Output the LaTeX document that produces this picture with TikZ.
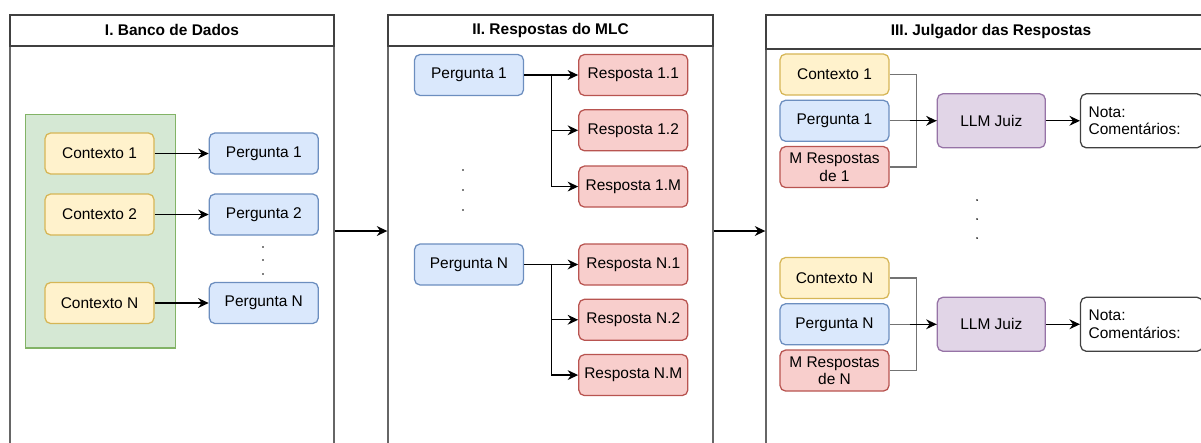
\documentclass[tikz,border=0pt]{standalone}
\usepackage{fontspec}
\setmainfont{Liberation Sans}
\usepackage{xcolor}
\usepackage{tikz}
\usetikzlibrary{arrows.meta, positioning, calc, fit, backgrounds}

\definecolor{ctxfill}{HTML}{FFF2CC}
\definecolor{ctxline}{HTML}{D6B656}
\definecolor{qfill}{HTML}{DAE8FC}
\definecolor{qline}{HTML}{6C8EBF}
\definecolor{rfill}{HTML}{F8CECC}
\definecolor{rline}{HTML}{B85450}
\definecolor{grpfill}{HTML}{D5E8D4}
\definecolor{grpline}{HTML}{82B366}
\definecolor{judgefill}{HTML}{E1D5E7}
\definecolor{judgeline}{HTML}{9673A6}

\begin{document}
\begin{tikzpicture}[
        x=0.025cm, y=-0.025cm,
        font=\fontsize{11}{12.5}\selectfont,
        panel/.style = {rectangle, draw=black!60, line width=0.9pt, minimum height=10.8cm},
        panel_title/.style = {rectangle, draw=black!75, line width=0.9pt, font=\fontsize{11}{12.5}\selectfont\bfseries},
        box/.style = {rectangle, rounded corners=4pt, line width=0.9pt, minimum width=2.725cm, minimum height=1.025cm, inner sep=1pt, align=center},
        ctx_box/.style = {box, draw=ctxline, fill=ctxfill},
        q_box/.style = {box, draw=qline, fill=qfill},
        r_box/.style = {box, draw=rline, fill=rfill},
        judge_box/.style = {box, draw=judgeline, fill=judgefill, minimum width=2.7cm, minimum height=1.35cm},
        note_box/.style = {box, draw=black!75, fill=white, minimum width=3.05cm, minimum height=1.35cm, align=left, text width=2.65cm},
        group_box/.style = {rectangle, draw=grpline, fill=grpfill, line width=0.9pt},
        arrow/.style = {draw, line width=0.9pt, -{Stealth[length=7.5pt, width=7pt, inset=2.5pt]}},
        elbow/.style = {draw, line width=0.9pt, black!55}
    ]

    \clip (0,0) rectangle (1201,442);

    % Panels
    \node [panel, minimum width=8.1cm] (panel1) at (172,231) {};
    \node [panel, minimum width=8.125cm] (panel2) at (550.5,231) {};
    \node [panel, minimum width=11.25cm] (panel3) at (991,231) {};
    \node [panel_title, anchor=north, minimum width=8.1cm, minimum height=0.775cm] (title1) at (panel1.north) {I. Banco de Dados};
    \node [panel_title, anchor=north, minimum width=8.125cm, minimum height=0.775cm] (title2) at (panel2.north) {II. Respostas do MLC};
    \node [panel_title, anchor=north, minimum width=11.25cm, minimum height=0.85cm] (title3) at (panel3.north) {III. Julgador das Respostas};

    \draw [arrow] (panel1.east) -- (panel2.west);
    \draw [arrow] (panel2.east) -- (panel3.west);

    % I. Banco de Dados
    \node [ctx_box] (ctx1) at (99.5,153.5) {Contexto 1};
    \node [ctx_box] (ctx2) at (99.5,214.5) {Contexto 2};
    \node [ctx_box] (ctxN) at (99.5,303) {Contexto N};
    \node [q_box, right=1.35cm of ctx1] (db_q1) {Pergunta 1};
    \node [q_box, right=1.35cm of ctx2] (db_q2) {Pergunta 2};
    \node [q_box, right=1.35cm of ctxN] (db_qN) {Pergunta N};
    \begin{scope}[on background layer]
        \node [group_box, fit=(ctx1) (ctxN), inner xsep=0.5cm, inner ysep=0.525cm, yshift=-0.07cm, xshift=0.03cm] (db_group) {};
    \end{scope}
    \draw [arrow] (ctx1) -- (db_q1);
    \draw [arrow] (ctx2) -- (db_q2);
    \draw [arrow] (ctxN) -- (db_qN);
    \fill (263,247) circle (0.7pt) (263,260) circle (0.7pt) (263,274) circle (0.7pt);

    % II. Respostas do MLC
    \node [q_box] (mlc_q1) at (469,75) {Pergunta 1};
    \node [r_box, right=1.35cm of mlc_q1] (r11) {Resposta 1.1};
    \node [r_box, below=0.325cm of r11] (r12) {Resposta 1.2};
    \node [r_box, below=0.35cm of r12] (r1M) {Resposta 1.M};
    \draw [arrow] (mlc_q1) -- (r11);
    \draw [arrow] (mlc_q1.east) -- ++(27,0) |- (r12.west);
    \draw [arrow] (mlc_q1.east) -- ++(27,0) |- (r1M.west);
    \fill (463,170) circle (0.7pt) (463,190) circle (0.7pt) (463,210) circle (0.7pt);

    \node [q_box] (mlc_qN) at (469,264.5) {Pergunta N};
    \node [r_box, right=1.35cm of mlc_qN] (rN1) {Resposta N.1};
    \node [r_box, below=0.325cm of rN1] (rN2) {Resposta N.2};
    \node [r_box, below=0.325cm of rN2] (rNM) {Resposta N.M};
    \draw [arrow] (mlc_qN) -- (rN1);
    \draw [arrow] (mlc_qN.east) -- ++(27,0) |- (rN2.west);
    \draw [arrow] (mlc_qN.east) -- ++(27,0) |- (rNM.west);

    % III. Julgador das Respostas
    \node [ctx_box] (jc1) at (834.5,74.5) {Contexto 1};
    \node [q_box, below=0.1cm of jc1] (jq1) {Pergunta 1};
    \node [r_box, below=0.1cm of jq1] (jm1) {M Respostas\\de 1};
    \node [judge_box, right=1.175cm of jq1] (llm1) {LLM Juiz};
    \node [note_box, right=0.85cm of llm1] (nota1) {Nota:\\Comentários:};
    \draw [elbow] (jc1.east) -- ++(27,0) |- (jm1.east);
    \draw [elbow] (jq1) -- (llm1);
    \draw [arrow] ($(jq1.east)+(20,0)$) -- (llm1.west);
    \draw [arrow] (llm1) -- (nota1);
    \fill (977,200) circle (0.7pt) (977,219) circle (0.7pt) (977,238) circle (0.7pt);

    \node [ctx_box] (jcN) at (834.5,278) {Contexto N};
    \node [q_box, below=0.1cm of jcN] (jqN) {Pergunta N};
    \node [r_box, below=0.1cm of jqN] (jmN) {M Respostas\\de N};
    \node [judge_box, right=1.175cm of jqN] (llmN) {LLM Juiz};
    \node [note_box, right=0.85cm of llmN] (notaN) {Nota:\\Comentários:};
    \draw [elbow] (jcN.east) -- ++(27,0) |- (jmN.east);
    \draw [elbow] (jqN) -- (llmN);
    \draw [arrow] ($(jqN.east)+(20,0)$) -- (llmN.west);
    \draw [arrow] (llmN) -- (notaN);

\end{tikzpicture}
\end{document}
